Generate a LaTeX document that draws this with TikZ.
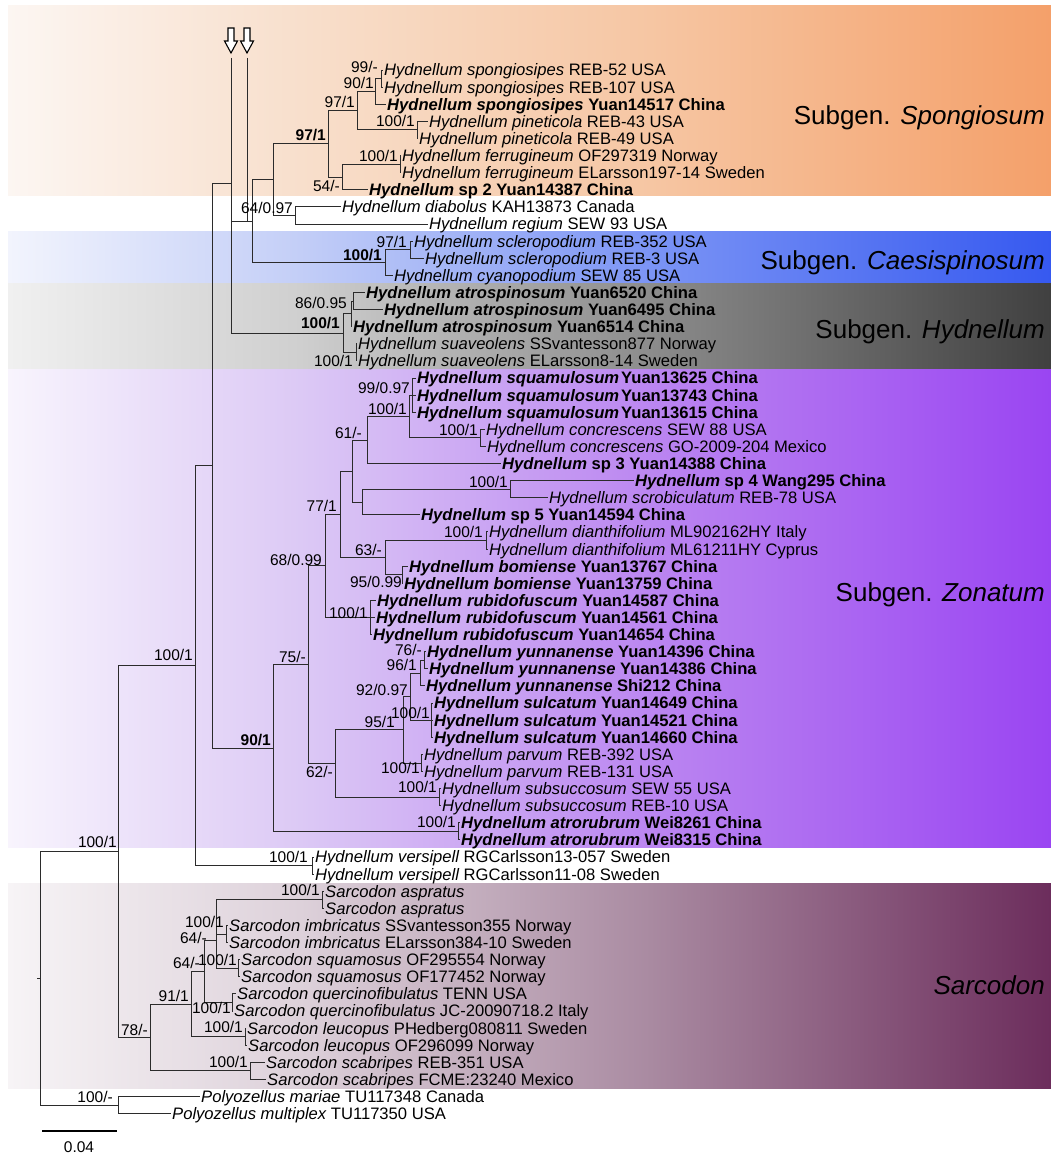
\documentclass[tikz,border=0pt]{standalone}
\usepackage{fontspec}
\setmainfont{Liberation Sans}
\definecolor{treecol}{HTML}{2B2B2B}
\definecolor{s0}{HTML}{FCF6F2}\definecolor{s1}{HTML}{F8DFCC}\definecolor{s2}{HTML}{F6C6A3}\definecolor{s3}{HTML}{F4A06A}
\definecolor{c0}{HTML}{F2F4FD}\definecolor{c1}{HTML}{C3CEF7}\definecolor{c2}{HTML}{7B94F5}\definecolor{c3}{HTML}{3659F0}
\definecolor{h0}{HTML}{F0F0F0}\definecolor{h1}{HTML}{CFCFCF}\definecolor{h2}{HTML}{8C8C8C}\definecolor{h3}{HTML}{404040}
\definecolor{z0}{HTML}{F8F4FD}\definecolor{z1}{HTML}{DCC9F5}\definecolor{z2}{HTML}{BB86F1}\definecolor{z3}{HTML}{9A45F2}
\definecolor{r0}{HTML}{F7F4F6}\definecolor{r1}{HTML}{DDD1DA}\definecolor{r2}{HTML}{A98AA1}\definecolor{r3}{HTML}{6C2D5C}
\newcommand{\bandfill}[6]{%
 \shade[left color=#3,right color=#4] (8,#1) rectangle (300.6,#2);
 \shade[left color=#4,right color=#5] (300,#1) rectangle (650.6,#2);
 \shade[left color=#5,right color=#6] (650,#1) rectangle (1051,#2);}
\begin{document}
\begin{tikzpicture}[x=1pt,y=-1pt,
 br/.style={draw=treecol,line width=0.9pt},
 leaf/.style={anchor=west,inner xsep=1pt,inner ysep=0pt,text height=11.9pt,text depth=0pt,font=\fontsize{16.6}{18}\selectfont},
 leafb/.style={leaf,font=\fontsize{16.6}{18}\selectfont\bfseries},
 bsv/.style={anchor=east,inner sep=0pt,text height=11pt,text depth=0pt,font=\fontsize{15.5}{17}\selectfont},
 bsvb/.style={bsv,font=\fontsize{15.5}{17}\selectfont\bfseries},
 grp/.style={anchor=east,inner sep=0pt,text height=18.6pt,text depth=0pt,font=\fontsize{26}{30}\selectfont},
 marker/.style={draw=black,fill=white,line width=1.1pt,line join=miter}]
\useasboundingbox (0,0) rectangle (1051,1166);
\fill[white] (0,0) rectangle (1051,1166);
% background bands
\bandfill{6}{196}{s0}{s1}{s2}{s3}
\bandfill{232}{283}{c0}{c1}{c2}{c3}
\bandfill{283}{369}{h0}{h1}{h2}{h3}
\bandfill{369}{847}{z0}{z1}{z2}{z3}
\bandfill{883}{1088}{r0}{r1}{r2}{r3}
% group labels
\node[grp] (gSp) at (1045,115) {Subgen. \textit{Spongiosum}};
\node[grp] (gCa) at (1045,260) {Subgen. \textit{Caesispinosum}};
\node[grp] (gHy) at (1045,329) {Subgen. \textit{Hydnellum}};
\node[grp] (gZo) at (1045,592) {Subgen. \textit{Zonatum}};
\node[grp] (gSa) at (1045,985) {\textit{Sarcodon}};
% leaves
\node[leaf]  (l1)  at (383,70)     {\itshape Hydnellum spongiosipes \upshape REB-52 USA};
\node[leaf]  (l2)  at (383,87.1)   {\itshape Hydnellum spongiosipes \upshape REB-107 USA};
\node[leafb] (l3)  at (386,104.2)  {\itshape Hydnellum spongiosipes \upshape Yuan14517 China};
\node[leaf]  (l4)  at (428,121.3)  {\itshape Hydnellum pineticola \upshape REB-43 USA};
\node[leaf]  (l5)  at (418,138.4)  {\itshape Hydnellum pineticola \upshape REB-49 USA};
\node[leaf]  (l6)  at (401,155.6)  {\itshape Hydnellum ferrugineum \upshape OF297319 Norway};
\node[leaf]  (l7)  at (401,172.7)  {\itshape Hydnellum ferrugineum \upshape ELarsson197-14 Sweden};
\node[leafb] (l8)  at (368,189.8)  {\itshape Hydnellum \upshape sp 2 Yuan14387 China};
\node[leaf]  (l9)  at (341,206.9)  {\itshape Hydnellum diabolus \upshape KAH13873 Canada};
\node[leaf]  (l10) at (428,224.0)  {\itshape Hydnellum regium \upshape SEW 93 USA};
\node[leaf]  (l11) at (413,241.1)  {\itshape Hydnellum scleropodium \upshape REB-352 USA};
\node[leaf]  (l12) at (424,258.2)  {\itshape Hydnellum scleropodium \upshape REB-3 USA};
\node[leaf]  (l13) at (393,275.3)  {\itshape Hydnellum cyanopodium \upshape SEW 85 USA};
\node[leafb] (l14) at (365,292.4)  {\itshape Hydnellum atrospinosum \upshape Yuan6520 China};
\node[leafb] (l15) at (383,309.5)  {\itshape Hydnellum atrospinosum \upshape Yuan6495 China};
\node[leafb] (l16) at (352,326.6)  {\itshape Hydnellum atrospinosum \upshape Yuan6514 China};
\node[leaf]  (l17) at (357,343.8)  {\itshape Hydnellum suaveolens \upshape SSvantesson877 Norway};
\node[leaf]  (l18) at (357,360.9)  {\itshape Hydnellum suaveolens \upshape ELarsson8-14 Sweden};
\node[leafb] (l19) at (416,378.0)  {\itshape Hydnellum squamulosum\upshape\kern2pt Yuan13625 China};
\node[leafb] (l20) at (416,395.1)  {\itshape Hydnellum squamulosum\upshape\kern2pt Yuan13743 China};
\node[leafb] (l21) at (416,412.2)  {\itshape Hydnellum squamulosum\upshape\kern2pt Yuan13615 China};
\node[leaf]  (l22) at (485,429.3)  {\itshape Hydnellum concrescens \upshape SEW 88 USA};
\node[leaf]  (l23) at (486,446.4)  {\itshape Hydnellum concrescens \upshape GO-2009-204 Mexico};
\node[leafb] (l24) at (501,463.5)  {\itshape Hydnellum \upshape sp 3 Yuan14388 China};
\node[leafb] (l25) at (634,480.6)  {\itshape Hydnellum \upshape sp 4 Wang295 China};
\node[leaf]  (l26) at (548,497.7)  {\itshape Hydnellum scrobiculatum \upshape REB-78 USA};
\node[leafb] (l27) at (420,514.8)  {\itshape Hydnellum \upshape sp 5 Yuan14594 China};
\node[leaf]  (l28) at (488,531.9)  {\itshape Hydnellum dianthifolium \upshape ML902162HY Italy};
\node[leaf]  (l29) at (488,549.1)  {\itshape Hydnellum dianthifolium \upshape ML61211HY Cyprus};
\node[leafb] (l30) at (408,566.2)  {\itshape Hydnellum bomiense \upshape Yuan13767 China};
\node[leafb] (l31) at (403,583.3)  {\itshape Hydnellum bomiense \upshape Yuan13759 China};
\node[leafb] (l32) at (376,600.4)  {\itshape Hydnellum\kern5pt rubidofuscum \upshape Yuan14587 China};
\node[leafb] (l33) at (375,617.5)  {\itshape Hydnellum\kern5pt rubidofuscum \upshape Yuan14561 China};
\node[leafb] (l34) at (372,634.6)  {\itshape Hydnellum\kern5pt rubidofuscum \upshape Yuan14654 China};
\node[leafb] (l35) at (426,651.7)  {\itshape Hydnellum yunnanense \upshape Yuan14396 China};
\node[leafb] (l36) at (428,668.8)  {\itshape Hydnellum yunnanense \upshape Yuan14386 China};
\node[leafb] (l37) at (425,685.9)  {\itshape Hydnellum yunnanense \upshape Shi212 China};
\node[leafb] (l38) at (433,703.0)  {\itshape Hydnellum sulcatum \upshape Yuan14649 China};
\node[leafb] (l39) at (433,720.1)  {\itshape Hydnellum sulcatum \upshape Yuan14521 China};
\node[leafb] (l40) at (433,737.2)  {\itshape Hydnellum sulcatum \upshape Yuan14660 China};
\node[leaf]  (l41) at (423,754.4)  {\itshape Hydnellum parvum \upshape REB-392 USA};
\node[leaf]  (l42) at (423,771.5)  {\itshape Hydnellum parvum \upshape REB-131 USA};
\node[leaf]  (l43) at (441,788.6)  {\itshape Hydnellum subsuccosum \upshape SEW 55 USA};
\node[leaf]  (l44) at (441,805.7)  {\itshape Hydnellum subsuccosum \upshape REB-10 USA};
\node[leafb] (l45) at (460,822.8)  {\itshape Hydnellum atrorubrum \upshape Wei8261 China};
\node[leafb] (l46) at (460,839.9)  {\itshape Hydnellum atrorubrum \upshape Wei8315 China};
\node[leaf]  (l47) at (314,857.0)  {\itshape Hydnellum versipell \upshape RGCarlsson13-057 Sweden};
\node[leaf]  (l48) at (314,874.1)  {\itshape Hydnellum versipell \upshape RGCarlsson11-08 Sweden};
\node[leaf]  (l49) at (324,891.2)  {\itshape Sarcodon aspratus};
\node[leaf]  (l50) at (324,908.3)  {\itshape Sarcodon aspratus};
\node[leaf]  (l51) at (228,925.4)  {\itshape Sarcodon imbricatus \upshape SSvantesson355 Norway};
\node[leaf]  (l52) at (228,942.5)  {\itshape Sarcodon imbricatus \upshape ELarsson384-10 Sweden};
\node[leaf]  (l53) at (240,959.7)  {\itshape Sarcodon squamosus \upshape OF295554 Norway};
\node[leaf]  (l54) at (240,976.8)  {\itshape Sarcodon squamosus \upshape OF177452 Norway};
\node[leaf]  (l55) at (236,993.9)  {\itshape Sarcodon quercinofibulatus \upshape TENN USA};
\node[leaf]  (l56) at (233,1011.0) {\itshape Sarcodon quercinofibulatus \upshape JC-20090718.2 Italy};
\node[leaf]  (l57) at (246,1028.1) {\itshape Sarcodon leucopus \upshape PHedberg080811 Sweden};
\node[leaf]  (l58) at (247,1045.2) {\itshape Sarcodon leucopus \upshape OF296099 Norway};
\node[leaf]  (l59) at (265,1062.3) {\itshape Sarcodon scabripes \upshape REB-351 USA};
\node[leaf]  (l60) at (266,1079.4) {\itshape Sarcodon scabripes \upshape FCME:23240 Mexico};
\node[leaf]  (l61) at (200,1096.5) {\itshape Polyozellus mariae \upshape TU117348 Canada};
\node[leaf]  (l62) at (171,1113.6) {\itshape Polyozellus multiplex \upshape TU117350 USA};
% internal nodes
\coordinate (A) at (381,78.5);   \coordinate (B) at (375,91.4);
\coordinate (C) at (417,129.9);  \coordinate (D) at (357,110.6);
\coordinate (E) at (400,164.1);  \coordinate (F) at (342,177.0);
\coordinate (H) at (328,143.8);  \coordinate (I) at (295,215.5);
\coordinate (G) at (273,179.6);  \coordinate (K97) at (410,249.7);
\coordinate (K) at (385,262.5);  \coordinate (J) at (252,221.0);
\coordinate (S14) at (353,301.0); \coordinate (N86) at (351,313.8);
\coordinate (Sua) at (356,352.3); \coordinate (M) at (343,333.0);
\coordinate (L) at (231,183);
\coordinate (Sq) at (412,395.1); \coordinate (Con) at (480,437.9);
\coordinate (Nh) at (409,416.5); \coordinate (N61) at (367,440);
\coordinate (Sp4) at (510,489.2); \coordinate (Nsp) at (362,502);
\coordinate (Nu) at (352,471);   \coordinate (Dia) at (486,540.5);
\coordinate (Bom) at (402,574.7); \coordinate (N63) at (385,557.6);
\coordinate (N77) at (340,514.3); \coordinate (Rub) at (370,617.5);
\coordinate (N68) at (325,565.9); \coordinate (N76) at (424,660.2);
\coordinate (N96) at (420,673.1); \coordinate (Sul) at (431,720.1);
\coordinate (N92) at (410,696.6); \coordinate (Par) at (421,763);
\coordinate (N95) at (403,729.8); \coordinate (Sub) at (439,797.2);
\coordinate (N62) at (335,763.5); \coordinate (N75) at (308,664.7);
\coordinate (Atr) at (458,831.4); \coordinate (N90) at (273,748);
\coordinate (O) at (212,465.5);  \coordinate (Ver) at (312,865.6);
\coordinate (P) at (195,665.5);
\coordinate (Asp) at (322,899.7); \coordinate (Imb) at (226,934);
\coordinate (Squ) at (238,968.2); \coordinate (W) at (216,940);
\coordinate (Que) at (232,1002.4); \coordinate (V) at (204,971.2);
\coordinate (Leu) at (245,1036.7); \coordinate (U) at (191,1004);
\coordinate (Sca) at (250,1070.9); \coordinate (S) at (150,1037.4);
\coordinate (R) at (118,851.5);  \coordinate (Pol) at (118,1105);
\coordinate (root) at (40,978);  \coordinate (rootstub) at (37,978);
\coordinate (La) at (231,58); \coordinate (Lb) at (247,58); \coordinate (Jm) at (247,221);
% branches
\draw[br] (A) |- (l1.west) (A) |- (l2.west);
\draw[br] (B) |- (A) (B) |- (l3.west);
\draw[br] (C) |- (l4.west) (C) |- (l5.west);
\draw[br] (D) |- (B) (D) |- (C);
\draw[br] (E) |- (l6.west) (E) |- (l7.west);
\draw[br] (F) |- (E) (F) |- (l8.west);
\draw[br] (H) |- (D) (H) |- (F);
\draw[br] (I) |- (l9.west) (I) |- (l10.west);
\draw[br] (G) |- (H) (G) |- (I);
\draw[br] (K97) |- (l11.west) (K97) |- (l12.west);
\draw[br] (K) |- (K97) (K) |- (l13.west);
\draw[br] (J) |- (G) (J) |- (K);
\draw[br] (S14) |- (l14.west) (S14) |- (l15.west);
\draw[br] (N86) |- (S14) (N86) |- (l16.west);
\draw[br] (Sua) |- (l17.west) (Sua) |- (l18.west);
\draw[br] (M) |- (N86) (M) |- (Sua);
\draw[br] (L) |- (J) (L) |- (M);
\draw[br] (La) -- (L);
\draw[br] (Lb) -- (Jm);
\draw[br] (Sq) |- (l19.west) (Sq) |- (l20.west) (Sq) |- (l21.west);
\draw[br] (Con) |- (l22.west) (Con) |- (l23.west);
\draw[br] (Nh) |- (Sq) (Nh) |- (Con);
\draw[br] (N61) |- (Nh) (N61) |- (l24.west);
\draw[br] (Sp4) |- (l25.west) (Sp4) |- (l26.west);
\draw[br] (Nsp) |- (Sp4) (Nsp) |- (l27.west);
\draw[br] (Nu) |- (N61) (Nu) |- (Nsp);
\draw[br] (Dia) |- (l28.west) (Dia) |- (l29.west);
\draw[br] (Bom) |- (l30.west) (Bom) |- (l31.west);
\draw[br] (N63) |- (Dia) (N63) |- (Bom);
\draw[br] (N77) |- (Nu) (N77) |- (N63);
\draw[br] (Rub) |- (l32.west) (Rub) |- (l33.west) (Rub) |- (l34.west);
\draw[br] (N68) |- (N77) (N68) |- (Rub);
\draw[br] (N76) |- (l35.west) (N76) |- (l36.west);
\draw[br] (N96) |- (N76) (N96) |- (l37.west);
\draw[br] (Sul) |- (l38.west) (Sul) |- (l39.west) (Sul) |- (l40.west);
\draw[br] (N92) |- (N96) (N92) |- (Sul);
\draw[br] (Par) |- (l41.west) (Par) |- (l42.west);
\draw[br] (N95) |- (N92) (N95) |- (Par);
\draw[br] (Sub) |- (l43.west) (Sub) |- (l44.west);
\draw[br] (N62) |- (N95) (N62) |- (Sub);
\draw[br] (N75) |- (N68) (N75) |- (N62);
\draw[br] (Atr) |- (l45.west) (Atr) |- (l46.west);
\draw[br] (N90) |- (N75) (N90) |- (Atr);
\draw[br] (O) |- (L) (O) |- (N90);
\draw[br] (Ver) |- (l47.west) (Ver) |- (l48.west);
\draw[br] (P) |- (O) (P) |- (Ver);
\draw[br] (Asp) |- (l49.west) (Asp) |- (l50.west);
\draw[br] (Imb) |- (l51.west) (Imb) |- (l52.west);
\draw[br] (Squ) |- (l53.west) (Squ) |- (l54.west);
\draw[br] (W) |- (Asp) (W) |- (Imb) (W) |- (Squ);
\draw[br] (Que) |- (l55.west) (Que) |- (l56.west);
\draw[br] (V) |- (W) (V) |- (Que);
\draw[br] (Leu) |- (l57.west) (Leu) |- (l58.west);
\draw[br] (U) |- (V) (U) |- (Leu);
\draw[br] (Sca) |- (l59.west) (Sca) |- (l60.west);
\draw[br] (S) |- (U) (S) |- (Sca);
\draw[br] (R) |- (P) (R) |- (S);
\draw[br] (Pol) |- (l61.west) (Pol) |- (l62.west);
\draw[br] (root) |- (R) (root) |- (Pol);
\draw[br] (rootstub) -- (root);
% arrows
\draw[marker] (228,28) -- (234,28) -- (234,41) -- (237.5,41) -- (231,53) -- (224.5,41) -- (228,41) -- cycle;
\draw[marker] (244,28) -- (250,28) -- (250,41) -- (253.5,41) -- (247,53) -- (240.5,41) -- (244,41) -- cycle;
% support values
\node[bsv]  (s1)  at (378,67)   {99/-};
\node[bsv]  (s2)  at (374,83)   {90/1};
\node[bsv]  (s3)  at (355,102)  {97/1};
\node[bsv]  (s4)  at (415,121)  {100/1};
\node[bsvb] (s5)  at (326,135)  {97/1};
\node[bsv]  (s6)  at (398,156)  {100/1};
\node[bsv]  (s7)  at (340,186)  {54/-};
\node[bsv]  (s8)  at (293,208)  {64/0.97};
\node[bsv]  (s9)  at (407,242)  {97/1};
\node[bsvb] (s10) at (382,255)  {100/1};
\node[bsv]  (s11) at (347,303)  {86/0.95};
\node[bsvb] (s12) at (340,323)  {100/1};
\node[bsv]  (s13) at (353,361)  {100/1};
\node[bsv]  (s14) at (410,388)  {99/0.97};
\node[bsv]  (s15) at (407,409)  {100/1};
\node[bsv]  (s16) at (478,430)  {100/1};
\node[bsv]  (s17) at (362,433)  {61/-};
\node[bsv]  (s18) at (508,482)  {100/1};
\node[bsv]  (s19) at (337,506)  {77/1};
\node[bsv]  (s20) at (382,550)  {63/-};
\node[bsv]  (s21) at (483,532)  {100/1};
\node[bsv]  (s22) at (322,560)  {68/0.99};
\node[bsv]  (s23) at (402,582)  {95/0.99};
\node[bsv]  (s24) at (368,613)  {100/1};
\node[bsv]  (s25) at (422,649.5) {76/-};
\node[bsv]  (s26) at (417,665)  {96/1};
\node[bsv]  (s27) at (408,690)  {92/0.97};
\node[bsv]  (s28) at (430,713)  {100/1};
\node[bsv]  (s29) at (395,722)  {95/1};
\node[bsv]  (s30) at (420,768)  {100/1};
\node[bsv]  (s31) at (306,657)  {75/-};
\node[bsvb] (s32) at (271,740)  {90/1};
\node[bsv]  (s33) at (333,772)  {62/-};
\node[bsv]  (s34) at (437,787)  {100/1};
\node[bsv]  (s35) at (456,822)  {100/1};
\node[bsv]  (s36) at (193,655)  {100/1};
\node[bsv]  (s37) at (308,857)  {100/1};
\node[bsv]  (s38) at (117,842)  {100/1};
\node[bsv]  (s39) at (320,890)  {100/1};
\node[bsv]  (s40) at (224,922)  {100/1};
\node[bsv]  (s41) at (207,937.5) {64/-};
\node[bsv]  (s42) at (237,960)  {100/1};
\node[bsv]  (s43) at (200,963)  {64/-};
\node[bsv]  (s44) at (189,996)  {91/1};
\node[bsv]  (s45) at (231,1008) {100/1};
\node[bsv]  (s46) at (243,1027) {100/1};
\node[bsv]  (s47) at (148,1030) {78/-};
\node[bsv]  (s48) at (248,1062) {100/1};
\node[bsv]  (s49) at (113,1097) {100/-};
% scale bar
\coordinate (sb1) at (42,1131); \coordinate (sb2) at (117,1131);
\draw[black,line width=2pt] (sb1) -- (sb2);
\node[font=\fontsize{15.5}{17}\selectfont,inner sep=0pt] (sbl) at (79,1147) {0.04};
\end{tikzpicture}
\end{document}
